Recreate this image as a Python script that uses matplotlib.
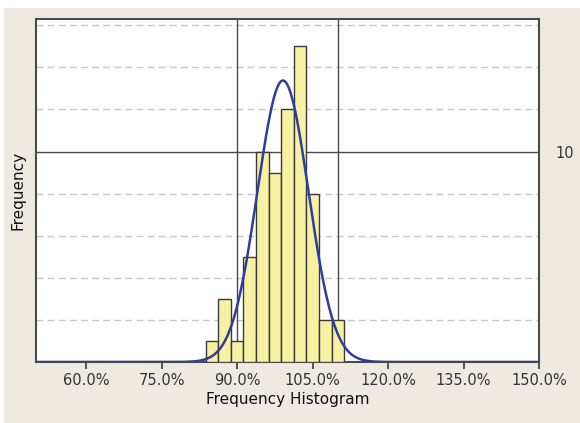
import numpy as np
import matplotlib
matplotlib.use("Agg")
import matplotlib.pyplot as plt
from matplotlib.patches import Rectangle

# Data
bin_edges = [83.75, 86.25, 88.75, 91.25, 93.75, 96.25, 98.75, 101.25, 103.75, 106.25, 108.75, 111.25]
counts = [1, 3, 1, 5, 10, 9, 12, 15, 8, 2, 2]
fit_mean = 99.1
fit_sd = 5.07
spec_limits = [90, 110]
x_ticks = [60, 75, 90, 105, 120, 135, 150]
x_tick_labels = ["60.0%", "75.0%", "90.0%", "105.0%", "120.0%", "135.0%", "150.0%"]
y_minor_lines = [2, 4, 6, 8, 12, 14, 16]
y_major = [10]

fig = plt.figure(figsize=(5.8, 4.23), dpi=100)
fig.patch.set_facecolor("white")
fig.patches.append(Rectangle((4/580, 0), 1, 1 - 8/423, transform=fig.transFigure,
                             facecolor="#EEEAE2", edgecolor="none", zorder=-10))

ax = fig.add_axes([36/580, (423-362)/423, (539-36)/580, (362-19)/423])
ax.set_facecolor("white")

widths = np.diff(bin_edges)
ax.bar(bin_edges[:-1], counts, width=widths, align="edge", color="#F7F1A4",
       edgecolor="#3A3A3A", linewidth=1.0, zorder=3)

n = sum(counts)
bw = widths[0]
xs = np.linspace(50, 150, 600)
pdf = n * bw / (fit_sd * np.sqrt(2 * np.pi)) * np.exp(-0.5 * ((xs - fit_mean) / fit_sd) ** 2)
ax.plot(xs, pdf, color="#2F3D9E", linewidth=1.8, zorder=4)

for y in y_minor_lines:
    ax.axhline(y, color="#C8C8C8", linestyle=(0, (5, 3)), linewidth=1.0, zorder=1)
for y in y_major:
    ax.axhline(y, color="#4A4A4A", linewidth=1.0, zorder=2)
for xv in spec_limits:
    ax.axvline(xv, color="#4A4A4A", linewidth=1.0, zorder=2)

ax.set_xlim(50, 150)
ax.set_ylim(0, 16.3)
ax.set_xticks(x_ticks)
ax.set_xticklabels(x_tick_labels, fontsize=10.5, color="#333333")
ax.tick_params(axis="x", direction="out", length=5, width=1.2, color="#3A3A3A", pad=3)

ax.set_yticks(y_major)
ax.yaxis.tick_right()
ax.tick_params(axis="y", length=0, labelsize=10.5, labelcolor="#333333", pad=12)

for s in ax.spines.values():
    s.set_color("#4A4A4A")
    s.set_linewidth(1.5)

ax.set_xlabel("Frequency Histogram", fontsize=11, color="#111111", labelpad=3)
fig.text(18/580, 1 - 190/423, "Frequency", rotation=90, ha="center", va="center",
         fontsize=11, color="#111111")

fig.savefig("out.png", dpi=100, facecolor=fig.get_facecolor())
